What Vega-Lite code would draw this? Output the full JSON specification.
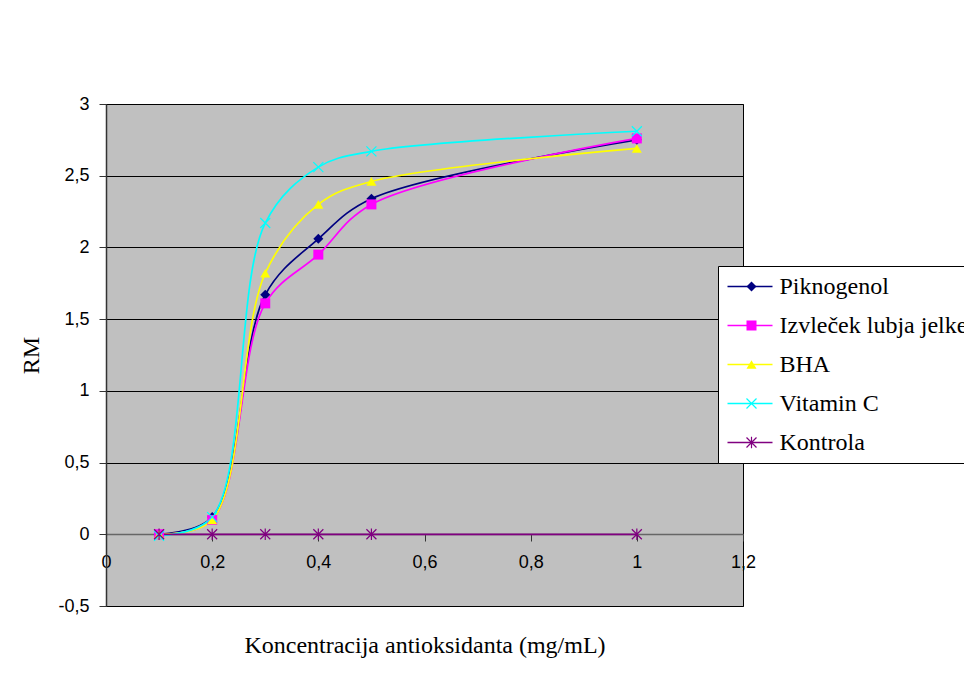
{
  "$schema": "https://vega.github.io/schema/vega-lite/v6.json",
  "width": 637,
  "height": 502,
  "autosize": {"type": "none"},
  "padding": {"left": 106, "top": 104, "right": 221, "bottom": 87},
  "background": "white",
  "config": {
    "locale": {"number": {"decimal": ",", "thousands": ".", "grouping": [3], "currency": ["", " €"], "minus": "-"}},
    "view": {"fill": "#C0C0C0", "stroke": "#000000", "strokeWidth": 1}
  },
  "data": {
    "values": [
      {"conc": 0.1, "RM": 0, "serija": "Piknogenol", "ord": 1},
      {"conc": 0.2, "RM": 0.12, "serija": "Piknogenol", "ord": 1},
      {"conc": 0.3, "RM": 1.67, "serija": "Piknogenol", "ord": 1},
      {"conc": 0.4, "RM": 2.06, "serija": "Piknogenol", "ord": 1},
      {"conc": 0.5, "RM": 2.34, "serija": "Piknogenol", "ord": 1},
      {"conc": 1.0, "RM": 2.75, "serija": "Piknogenol", "ord": 1},
      {"conc": 0.1, "RM": 0, "serija": "Izvleček lubja jelke", "ord": 2},
      {"conc": 0.2, "RM": 0.1, "serija": "Izvleček lubja jelke", "ord": 2},
      {"conc": 0.3, "RM": 1.61, "serija": "Izvleček lubja jelke", "ord": 2},
      {"conc": 0.4, "RM": 1.95, "serija": "Izvleček lubja jelke", "ord": 2},
      {"conc": 0.5, "RM": 2.3, "serija": "Izvleček lubja jelke", "ord": 2},
      {"conc": 1.0, "RM": 2.76, "serija": "Izvleček lubja jelke", "ord": 2},
      {"conc": 0.1, "RM": 0, "serija": "BHA", "ord": 3},
      {"conc": 0.2, "RM": 0.1, "serija": "BHA", "ord": 3},
      {"conc": 0.3, "RM": 1.82, "serija": "BHA", "ord": 3},
      {"conc": 0.4, "RM": 2.3, "serija": "BHA", "ord": 3},
      {"conc": 0.5, "RM": 2.46, "serija": "BHA", "ord": 3},
      {"conc": 1.0, "RM": 2.69, "serija": "BHA", "ord": 3},
      {"conc": 0.1, "RM": -0.01, "serija": "Vitamin C", "ord": 4},
      {"conc": 0.2, "RM": 0.12, "serija": "Vitamin C", "ord": 4},
      {"conc": 0.3, "RM": 2.17, "serija": "Vitamin C", "ord": 4},
      {"conc": 0.4, "RM": 2.56, "serija": "Vitamin C", "ord": 4},
      {"conc": 0.5, "RM": 2.67, "serija": "Vitamin C", "ord": 4},
      {"conc": 1.0, "RM": 2.81, "serija": "Vitamin C", "ord": 4},
      {"conc": 0.1, "RM": 0, "serija": "Kontrola", "ord": 5},
      {"conc": 0.2, "RM": 0, "serija": "Kontrola", "ord": 5},
      {"conc": 0.3, "RM": 0, "serija": "Kontrola", "ord": 5},
      {"conc": 0.4, "RM": 0, "serija": "Kontrola", "ord": 5},
      {"conc": 0.5, "RM": 0, "serija": "Kontrola", "ord": 5},
      {"conc": 1.0, "RM": 0, "serija": "Kontrola", "ord": 5}
    ]
  },
  "encoding": {
    "x": {
      "field": "conc", "type": "quantitative",
      "scale": {"domain": [0, 1.2], "nice": false, "zero": false},
      "axis": {
        "values": [0, 0.2, 0.4, 0.6, 0.8, 1, 1.2], "format": "~g",
        "offset": -72, "grid": false,
        "domainColor": "#666666", "domainWidth": 1.5,
        "tickColor": "#333333", "tickSize": 7,
        "labelFont": "Liberation Sans", "labelFontSize": 18, "labelColor": "#000000",
        "labelPadding": 12, "labelFlush": false,
        "title": "Koncentracija antioksidanta (mg/mL)",
        "titleFont": "Liberation Serif", "titleFontSize": 24, "titleFontWeight": "normal",
        "titleColor": "#000000", "titlePadding": 62
      }
    },
    "y": {
      "field": "RM", "type": "quantitative",
      "scale": {"domain": [-0.5, 3], "nice": false, "zero": false},
      "axis": {
        "values": [-0.5, 0, 0.5, 1, 1.5, 2, 2.5, 3], "format": "~g",
        "grid": true, "gridColor": "#000000", "gridWidth": 1, "gridOpacity": 1,
        "domainColor": "#333333", "domainWidth": 1.5, "tickColor": "#333333", "tickSize": 7,
        "labelFont": "Liberation Sans", "labelFontSize": 18, "labelColor": "#000000",
        "labelPadding": 10,
        "title": "RM",
        "titleFont": "Liberation Serif", "titleFontSize": 24, "titleFontWeight": "normal",
        "titleColor": "#000000", "titlePadding": 14
      }
    }
  },
  "layer": [
    {
      "mark": {"type": "line", "interpolate": "catmull-rom", "strokeWidth": 1.7},
      "encoding": {
        "stroke": {
          "field": "serija", "type": "nominal",
          "scale": {
            "domain": ["Piknogenol", "Izvleček lubja jelke", "BHA", "Vitamin C", "Kontrola"],
            "range": ["#000080", "#FF00FF", "#FFFF00", "#00FFFF", "#800080"]
          },
          "legend": {
            "title": null, "orient": "none", "legendX": 612, "legendY": 162,
            "symbolType": "stroke", "symbolSize": 2025, "symbolStrokeWidth": 1.7,
            "labelFont": "Liberation Serif", "labelFontSize": 24, "labelColor": "#000000",
            "labelOffset": 6, "labelLimit": 500, "clipHeight": 24,
            "padding": 8.5, "rowPadding": 15,
            "fillColor": "#FFFFFF", "strokeColor": "#000000"
          }
        },
        "order": {"field": "conc", "type": "quantitative"}
      }
    },
    {
      "mark": {"type": "point", "filled": true, "size": 100, "opacity": 1},
      "encoding": {
        "color": {
          "field": "serija", "type": "nominal",
          "sort": {"field": "ord", "op": "min"},
          "scale": {"range": ["#000080", "#FF00FF", "#FFFF00", "#00FFFF", "#800080"]},
          "legend": {
            "title": null, "orient": "none", "legendX": 625, "legendY": 162,
            "symbolSize": 100, "symbolOpacity": 1,
            "labelFont": "Liberation Serif", "labelFontSize": 24, "labelColor": "#000000",
            "labelOpacity": 0, "labelOffset": 6, "labelLimit": 500, "clipHeight": 24,
            "padding": 8.5, "rowPadding": 15
          }
        },
        "shape": {
          "field": "serija", "type": "nominal",
          "sort": {"field": "ord", "op": "min"},
          "scale": {"range": [
            "diamond",
            "square",
            "triangle-up",
            "M-0.915,-1.085L1.085,0.915L0.915,1.085L-1.085,-0.915ZM0.915,-1.085L1.085,-0.915L-0.915,1.085L-1.085,0.915Z",
            "M-0.915,-1.085L1.085,0.915L0.915,1.085L-1.085,-0.915ZM0.915,-1.085L1.085,-0.915L-0.915,1.085L-1.085,0.915ZM-0.12,-1.15L0.12,-1.15L0.12,1.15L-0.12,1.15Z"
          ]},
          "legend": {
            "title": null, "orient": "none", "legendX": 625, "legendY": 162,
            "symbolSize": 100,
            "labelFont": "Liberation Serif", "labelFontSize": 24, "labelColor": "#000000",
            "labelOpacity": 0, "labelOffset": 6, "labelLimit": 500, "clipHeight": 24,
            "padding": 8.5, "rowPadding": 15
          }
        }
      }
    }
  ]
}
